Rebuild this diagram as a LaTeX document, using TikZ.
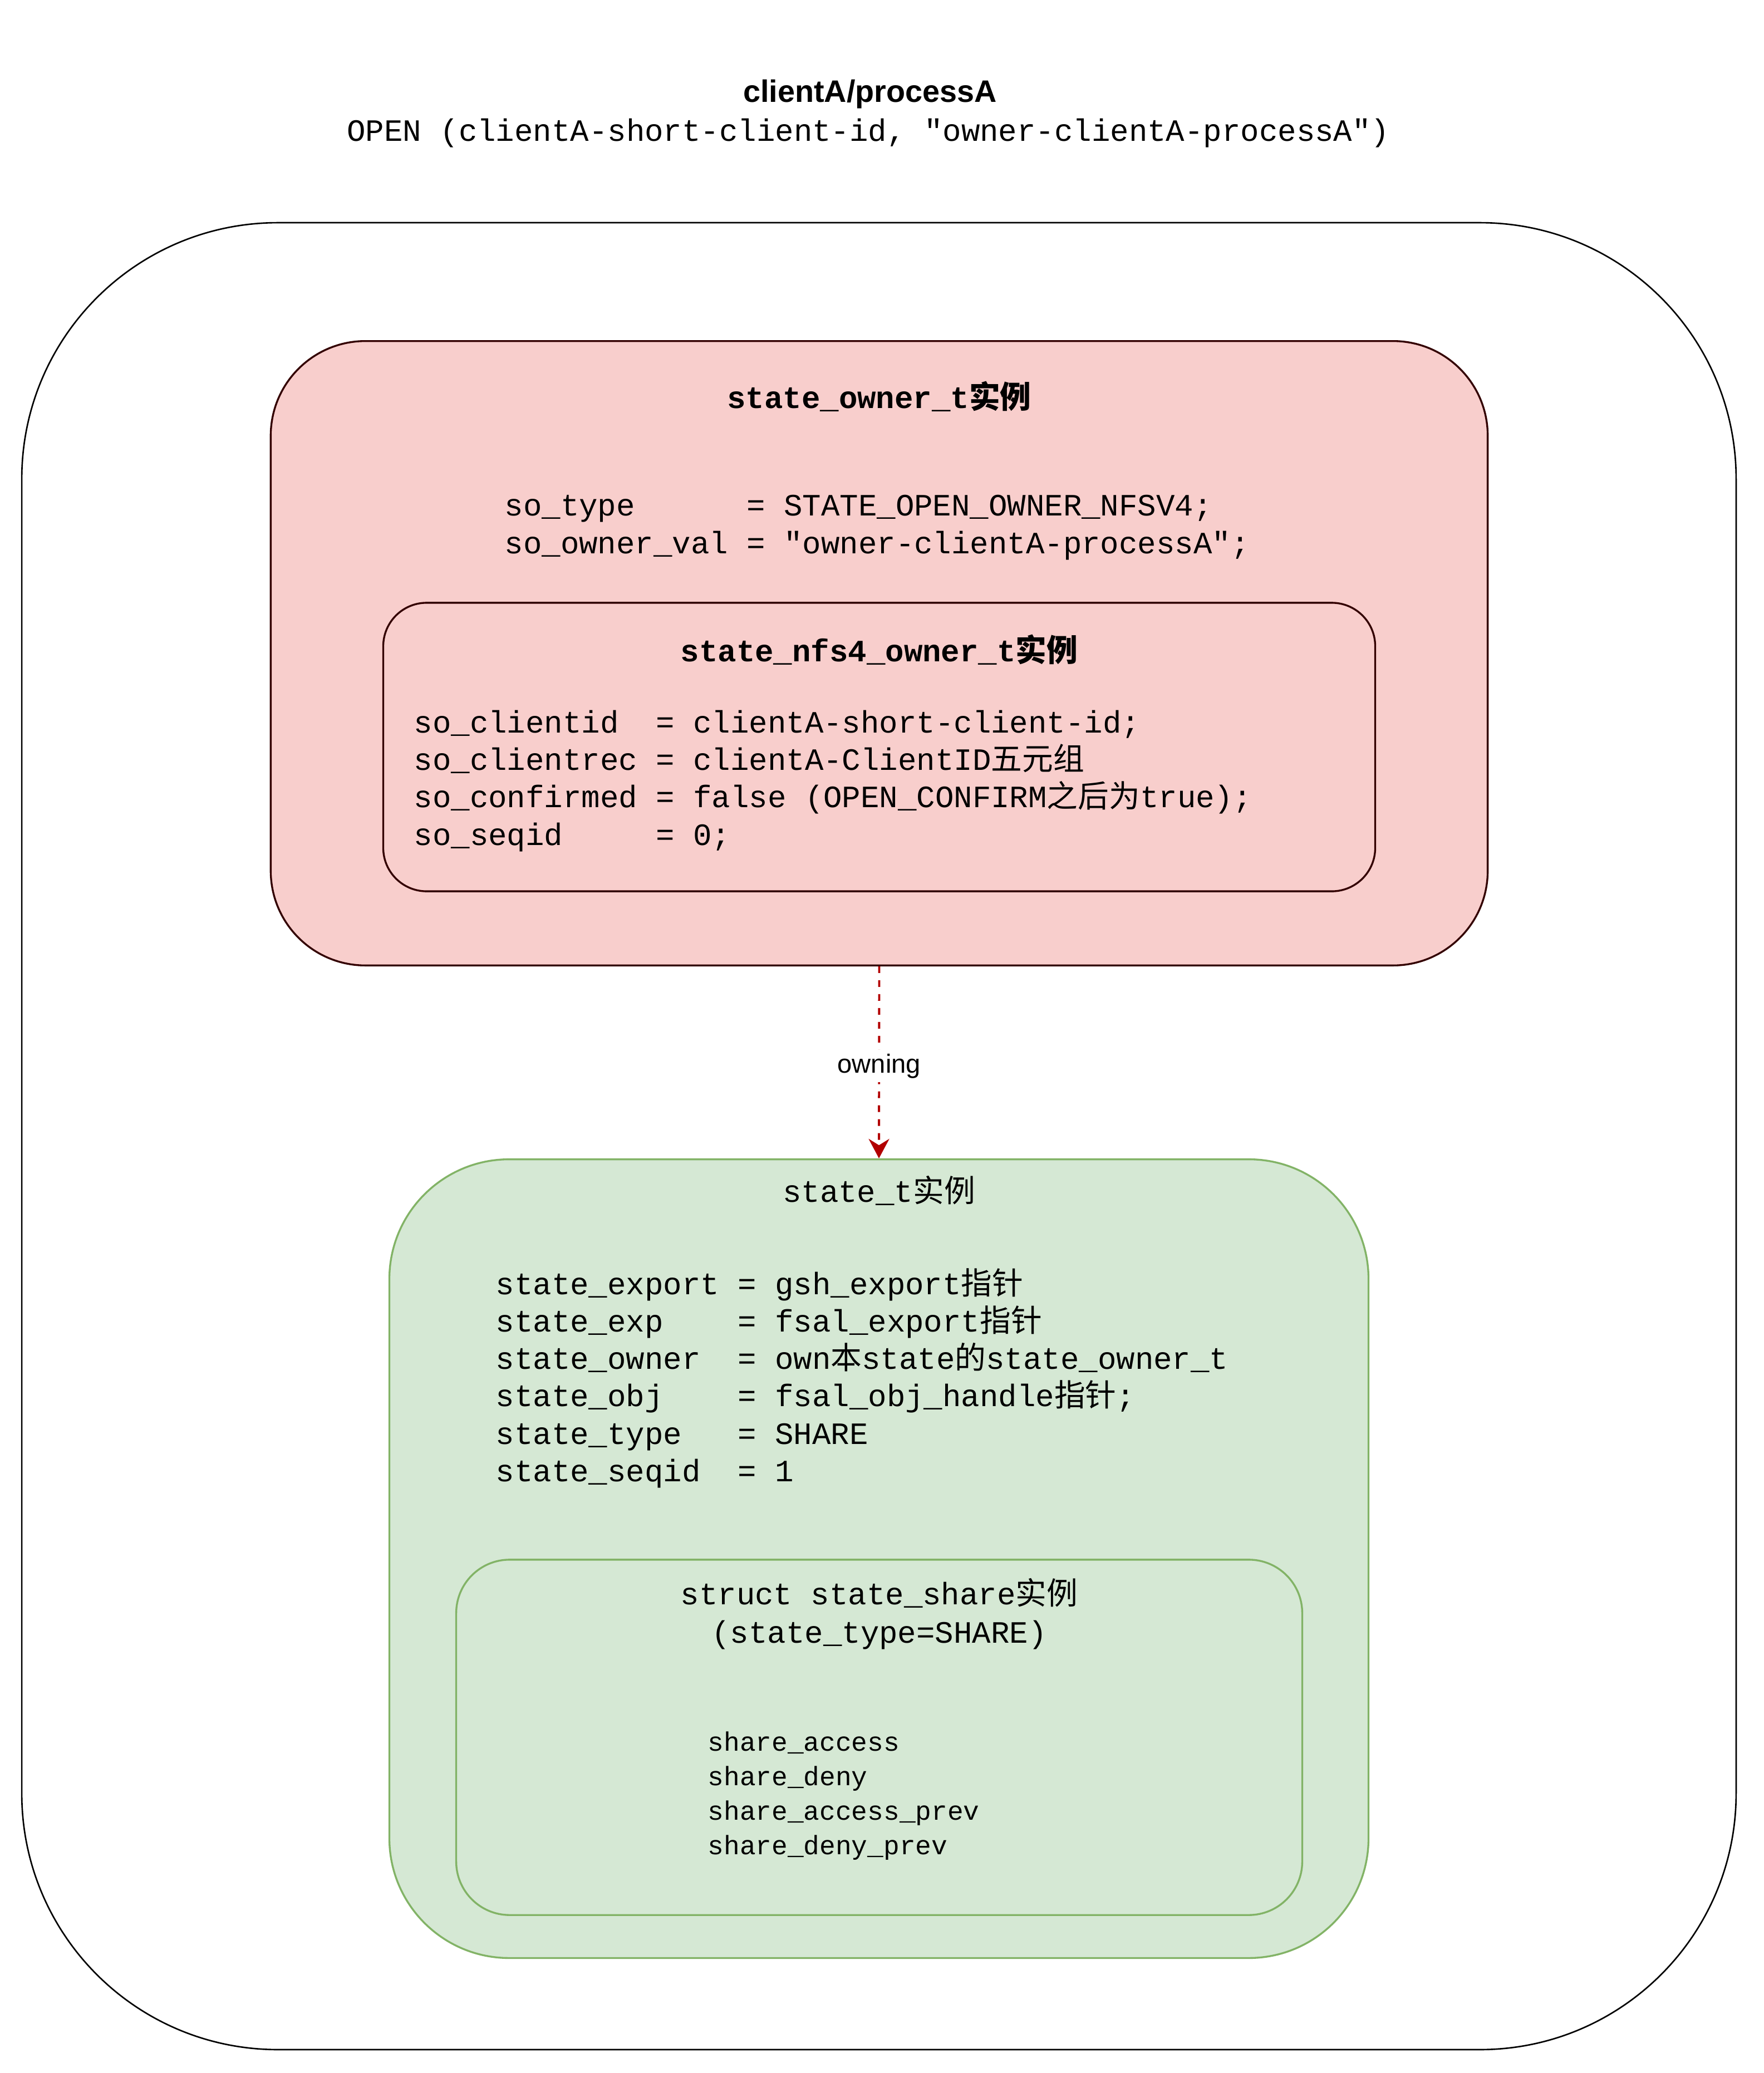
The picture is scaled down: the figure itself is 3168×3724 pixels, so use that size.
\documentclass[tikz,border=0pt]{standalone}
\usepackage{fontspec}
\setmainfont{Liberation Sans}
\setmonofont{Liberation Mono}
\newfontfamily\cjk{Noto Sans CJK SC}
\usetikzlibrary{arrows.meta,positioning}
\definecolor{OwnerFill}{HTML}{F8CECC}
\definecolor{OwnerLine}{HTML}{330000}
\definecolor{StateFill}{HTML}{D5E8D4}
\definecolor{StateLine}{HTML}{82B366}
\definecolor{OwnRed}{HTML}{B20000}
\newcommand{\zh}[1]{{\cjk #1}}
\tikzset{
  outerbox/.style={draw=black, line width=0.75pt, inner sep=0pt},
  ownerbox/.style={draw=OwnerLine, fill=OwnerFill, line width=0.95pt, inner sep=0pt},
  statebox/.style={draw=StateLine, fill=StateFill, line width=0.95pt, inner sep=0pt},
  code/.style={font=\ttfamily\fontsize{15.85}{19.06}\selectfont, inner sep=0pt, align=left},
  codehead/.style={code, anchor=base, align=center},
  smallcode/.style={font=\ttfamily\fontsize{13.6}{17.55}\selectfont, inner sep=0pt, align=left},
  heading/.style={font=\bfseries\fontsize{15.85}{19}\selectfont, inner sep=0pt, anchor=base},
  owns/.style={-{Stealth[length=0.35cm,width=0.37cm]}, draw=OwnRed, line width=1.1pt,
               dash pattern=on 3.4pt off 3.7pt},
  ownlabel/.style={font=\fontsize{13.4}{16}\selectfont, fill=white, inner sep=2pt},
}
\begin{document}
\begin{tikzpicture}[x=0.01cm,y=-0.01cm]
  \useasboundingbox (0,0) rectangle (3168,3724);
  % header
  \node[heading] (title) at (1563,184) {clientA/processA};
  \node[codehead] (open) at (1560,254) {OPEN (clientA-short-client-id, "owner-clientA-processA")};
  % boxes
  \node[outerbox, rounded corners=4.6cm, minimum width=30.78cm, minimum height=32.80cm] (client) at (1579,2041) {};
  \node[ownerbox, rounded corners=1.7cm, minimum width=21.85cm, minimum height=11.21cm] (owner) at (1579.5,1173.5) {};
  \node[ownerbox, rounded corners=0.78cm, minimum width=17.81cm, minimum height=5.18cm] (nfsowner) at (1579.5,1342) {};
  \node[statebox, rounded corners=2.15cm, minimum width=17.58cm, minimum height=14.34cm] (state) at (1579,2800) {};
  \node[statebox, rounded corners=0.96cm, minimum width=15.19cm, minimum height=6.38cm] (share) at (1579.5,3121) {};
  % state_owner_t
  \node[codehead, font=\bfseries\ttfamily\fontsize{15.85}{19.06}\selectfont] (ownerhead) at (1579.5,733) {state\_owner\_t\zh{实例}};
  \node[code, anchor=base west] (ownerbody) at (906,994)
    {so\_type~~~~~~= STATE\_OPEN\_OWNER\_NFSV4;\\
     so\_owner\_val = "owner-clientA-processA";};
  \node[codehead, font=\bfseries\ttfamily\fontsize{15.85}{19.06}\selectfont] (nfshead) at (1579.5,1188) {state\_nfs4\_owner\_t\zh{实例}};
  \node[code, anchor=base west] (nfsbody) at (743,1518)
    {so\_clientid~~= clientA-short-client-id;\\
     so\_clientrec = clientA-ClientID\zh{五元组}\\
     so\_confirmed = false (OPEN\_CONFIRM\zh{之后为}true);\\
     so\_seqid~~~~~= 0;};
  % state_t
  \node[codehead] (statehead) at (1579,2159) {state\_t\zh{实例}};
  \node[code, anchor=base west] (statebody) at (890,2661)
    {state\_export = gsh\_export\zh{指针}\\
     state\_exp~~~~= fsal\_export\zh{指针}\\
     state\_owner~~= own\zh{本}state\zh{的}state\_owner\_t\\
     state\_obj~~~~= fsal\_obj\_handle\zh{指针};\\
     state\_type~~~= SHARE\\
     state\_seqid~~= 1};
  \node[codehead, font=\ttfamily\fontsize{15.85}{19.6}\selectfont] (sharehead) at (1579.5,2951)
    {struct state\_share\zh{实例}\\(state\_type=SHARE)};
  \node[smallcode, anchor=base west] (sharebody) at (1271,3331)
    {share\_access\\share\_deny\\share\_access\_prev\\share\_deny\_prev};
  % link
  \draw[owns] (owner.south) -- node[ownlabel, pos=0.52] (owning) {owning} (state.north);
\end{tikzpicture}
\end{document}
